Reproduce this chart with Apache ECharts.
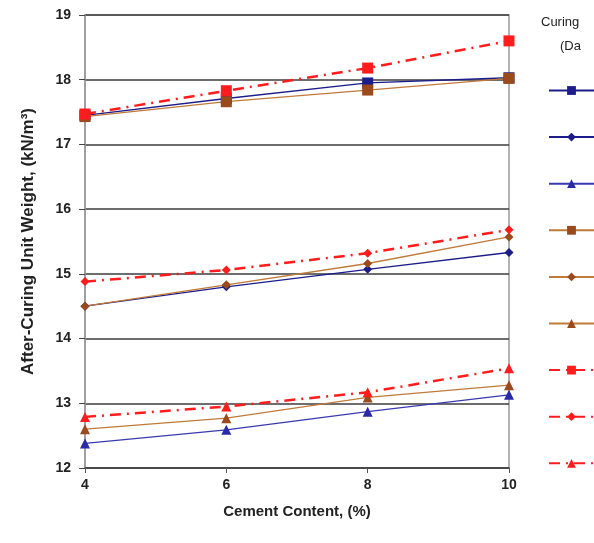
<!DOCTYPE html>
<html><head><meta charset="utf-8">
<script src="https://cdn.jsdelivr.net/npm/echarts@6/dist/echarts.min.js"></script>
<style>html,body{margin:0;padding:0;background:#fff}#c{width:594px;height:543px}</style>
</head><body><div id="c"></div>
<script>
const cement = [4, 6, 8, 10];
const blueSquare   = [17.45, 17.71, 17.95, 18.03];
const blueDiamond  = [14.50, 14.80, 15.07, 15.33];
const blueTriangle = [12.38, 12.59, 12.87, 13.13];
const brownSquare  = [17.43, 17.66, 17.84, 18.02];
const brownDiamond = [14.50, 14.83, 15.16, 15.57];
const brownTriangle= [12.60, 12.77, 13.09, 13.28];
const redSquare    = [17.47, 17.83, 18.18, 18.60];
const redDiamond   = [14.88, 15.06, 15.32, 15.68];
const redTriangle  = [12.79, 12.95, 13.17, 13.54];
const yTicks = [12, 13, 14, 15, 16, 17, 18, 19];
const names = ['B-sq','B-di','B-tr','Br-sq','Br-di','Br-tr','R-sq','R-di','R-tr'];

const pair = v => cement.map((x, i) => [x, v[i]]);
const NAVY = '#1c1c8a', BLUE = '#2a2aa8', BROWN = '#9a4a1c', BROWNL = '#c07a3a', RED = '#ff1c1c';
function s(name, data, sym, col, lineCol, dash, w) {
  return {
    name, type: 'line', data: pair(data), symbol: sym,
    symbolSize: sym === 'rect' ? 11 : (sym === 'diamond' ? 9 : 10),
    itemStyle: { color: col },
    lineStyle: { color: lineCol, width: w, type: dash },
    z: dash === 'solid' ? 3 : 4
  };
}
const dd = [11, 6, 2, 6];
const series = [
  s(names[0], blueSquare, 'rect', NAVY, NAVY, 'solid', 1.3),
  s(names[1], blueDiamond, 'diamond', NAVY, NAVY, 'solid', 1.3),
  s(names[2], blueTriangle, 'triangle', BLUE, '#3a3ab0', 'solid', 1.3),
  s(names[3], brownSquare, 'rect', BROWN, BROWNL, 'solid', 1.3),
  s(names[4], brownDiamond, 'diamond', BROWN, BROWNL, 'solid', 1.3),
  s(names[5], brownTriangle, 'triangle', BROWN, BROWNL, 'solid', 1.3),
  s(names[6], redSquare, 'rect', RED, RED, dd, 2.5),
  s(names[7], redDiamond, 'diamond', RED, RED, dd, 2.5),
  s(names[8], redTriangle, 'triangle', RED, RED, dd, 2.5)
];

const chart = echarts.init(document.getElementById('c'), null, { renderer: 'canvas' });
chart.setOption({
  animation: false,
  backgroundColor: '#fff',
  textStyle: { fontFamily: 'Liberation Sans, Arial, sans-serif' },
  grid: { left: 85, right: 85, top: 15, bottom: 75, show: true, borderColor: '#9a9a9a', borderWidth: 1.5 },
  title: [
    { text: 'Curing', left: 536, top: 11, textStyle: { fontSize: 13, fontWeight: 'normal', color: '#222' } },
    { text: '(Da', left: 555, top: 35, textStyle: { fontSize: 13, fontWeight: 'normal', color: '#222' } }
  ],
  legend: {
    orient: 'vertical', left: 543, top: 79, itemWidth: 45, itemHeight: 11, itemGap: 33.6,
    data: names, textStyle: { fontSize: 13, color: '#222', padding: [0, 0, 0, 20] },
    formatter: n => n
  },
  xAxis: {
    type: 'value', min: 4, max: 10, interval: 2,
    name: 'Cement Content, (%)', nameLocation: 'middle', nameGap: 36,
    nameTextStyle: { fontSize: 15, fontWeight: 'bold', color: '#222' },
    axisLine: { show: true, lineStyle: { color: '#444', width: 1.5 } },
    axisTick: { show: true, inside: false, length: 5, lineStyle: { color: '#555' } },
    axisLabel: { fontSize: 14, fontWeight: 'bold', color: '#222', margin: 10 },
    splitLine: { show: false }
  },
  yAxis: {
    type: 'value', min: 12, max: 19, interval: 1,
    name: 'After-Curing Unit Weight, (kN/m³)', nameLocation: 'middle', nameGap: 48,
    nameTextStyle: { fontSize: 17, fontWeight: 'bold', color: '#222' },
    axisLine: { show: true, lineStyle: { color: '#9a9a9a', width: 1.5 } },
    axisTick: { show: true, length: 6, lineStyle: { color: '#444' } },
    axisLabel: { fontSize: 14, fontWeight: 'bold', color: '#222', margin: 14, formatter: v => yTicks.includes(v) ? String(v) : '' },
    splitLine: { show: true, lineStyle: { color: '#3c3c3c', width: 1.6 } }
  },
  series
});
</script></body></html>
